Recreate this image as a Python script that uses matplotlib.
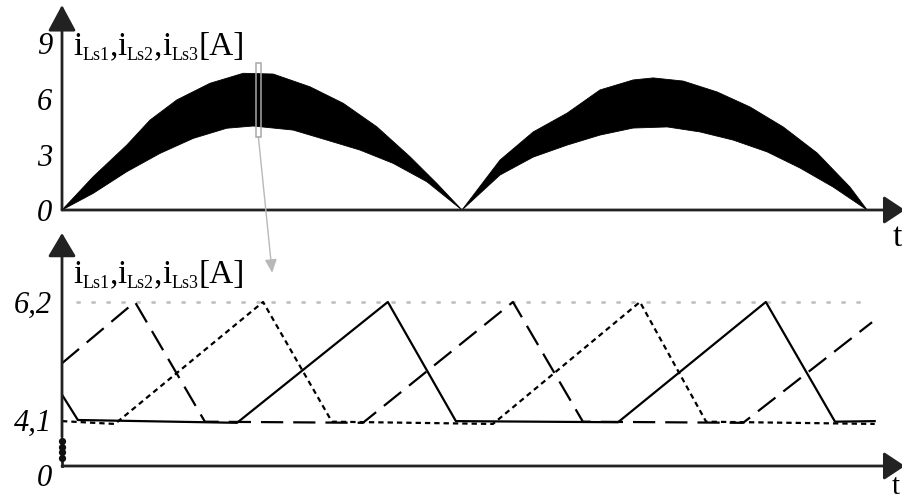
import matplotlib.pyplot as plt
import numpy as np

plt.rcParams['font.family'] = ['Liberation Serif', 'DejaVu Serif']

W, H = 902, 503

# --- top panel: envelope of the rectified choke current (t in ms, i in A) ---
hump1_t_hi = [0, 0.78, 1.62, 2.2, 2.87, 3.7, 4.53, 5.28, 6.2, 7.03, 7.87, 8.7, 9.37, 10.0]
hump1_hi = [0, 1.80, 3.51, 4.86, 5.95, 6.85, 7.39, 7.35, 6.66, 5.77, 4.50, 2.88, 1.44, 0]
hump1_t_lo = [0, 0.78, 1.62, 2.45, 3.28, 4.12, 4.78, 5.78, 6.62, 7.45, 8.28, 9.12, 10.0]
hump1_lo = [0, 0.9, 2.07, 3.06, 3.87, 4.42, 4.54, 4.32, 3.78, 3.24, 2.52, 1.53, 0]

hump2_t_hi = [10.0, 10.95, 11.78, 12.63, 13.45, 14.28, 14.78, 15.53, 16.38, 17.2, 18.03, 18.88, 19.7, 20.13]
hump2_hi = [0, 2.7, 4.22, 5.24, 6.49, 7.03, 7.14, 6.97, 6.38, 5.57, 4.49, 3.08, 1.24, 0]
hump2_t_lo = [10.0, 10.95, 11.78, 12.63, 13.45, 14.28, 15.13, 15.95, 16.78, 17.63, 18.45, 19.28, 20.13]
hump2_lo = [0, 1.89, 2.86, 3.51, 4.05, 4.43, 4.49, 4.22, 3.78, 3.14, 2.27, 1.24, 0]

top_ticks = [0, 3, 6, 9]

# zoom window marked on the top trace (ms, A)
zoom_t = (4.85, 4.975)
zoom_i = (3.95, 7.95)

# --- bottom panel: the three interleaved phase currents (t in us, i in A) ---
ls1_t = [0, 4.2, 46.3, 86.2, 104.2, 147.1, 186.2, 204.5, 215]
ls1_i = [4.55, 4.1, 4.05, 6.2, 4.08, 4.06, 6.2, 4.07, 4.08]

ls2_t = [0, 19.3, 37.8, 79.6, 119.3, 137.8, 180.2, 214.3]
ls2_i = [5.11, 6.2, 4.07, 4.05, 6.2, 4.07, 4.05, 5.84]

ls3_t = [0, 14.0, 53.2, 71.4, 114.0, 152.9, 170.4, 215]
ls3_i = [4.08, 4.03, 6.2, 4.07, 4.03, 6.2, 4.07, 4.03]

i_peak = 6.2
i_valley = 4.1
bot_ticks = [4.1, 6.2]
bot_tick_labels = ['4,1', '6,2']


def px_axes(left, top, right, bottom):
    """Axes rectangle given in image pixels (origin top-left)."""
    return [left / W, 1 - bottom / H, (right - left) / W, (bottom - top) / H]


def axis_arrow(ax, start, end, head_len=1.6, head_w=0.86):
    ax.annotate('', xy=end, xycoords='axes fraction', xytext=start,
                textcoords='axes fraction', annotation_clip=False,
                arrowprops=dict(arrowstyle=f'-|>,head_length={head_len},head_width={head_w}',
                                color='#222222', lw=2, shrinkA=0, shrinkB=0,
                                mutation_scale=10))


def chain_label(ax, x0, y0, parts):
    """Write text pieces one after another; each part is (text, size, drop in px)."""
    prev = None
    for txt, size, drop in parts:
        if prev is None:
            xy, coords = (x0, y0), 'figure pixels'
        else:
            xy, coords = (1, y0), (prev, 'figure pixels')
        prev = ax.annotate(txt, xy=xy, xycoords=coords, xytext=(0, -drop),
                           textcoords='offset pixels', ha='left', va='baseline',
                           fontsize=size, annotation_clip=False)
    return prev


label_parts = []
for k in (1, 2, 3):
    label_parts += [('i', 24, 0), (f'Ls{k}', 13, 5)]
    if k < 3:
        label_parts.append((',', 24, 0))
label_parts += [('[A]', 24, 0)]

fig = plt.figure(figsize=(W / 100, H / 100), dpi=100)
ax_top = fig.add_axes(px_axes(62, 5, 902, 210))
ax_bot = fig.add_axes(px_axes(62, 233, 902, 466))

# top panel
ax_top.fill(np.concatenate([hump1_t_hi, hump1_t_lo[::-1]]),
            np.concatenate([hump1_hi, hump1_lo[::-1]]), color='black', lw=0.6)
ax_top.fill(np.concatenate([hump2_t_hi, hump2_t_lo[::-1]]),
            np.concatenate([hump2_hi, hump2_lo[::-1]]), color='black', lw=0.6)
ax_top.add_patch(plt.Rectangle((zoom_t[0], zoom_i[0]), zoom_t[1] - zoom_t[0],
                               zoom_i[1] - zoom_i[0], fill=False,
                               edgecolor='#a8a8a8', lw=1.1, zorder=5))
ax_top.set_xlim(0, 21)
ax_top.set_ylim(0, 205 / 18.5)
ax_top.set_yticks(top_ticks)
ax_top.set_yticklabels([str(v) for v in top_ticks], fontsize=22, style='italic')

# bottom panel
ax_bot.plot([4, 214], [i_peak, i_peak], color='#c2c2c2', lw=2,
            linestyle=(0, (0.8, 4.6)), dash_capstyle='round')
ax_bot.plot(ls1_t, ls1_i, color='black', lw=1.6)
ax_bot.plot(ls2_t, ls2_i, color='black', lw=1.6, linestyle=(0, (10, 4.5)))
ax_bot.plot(ls3_t, ls3_i, color='black', lw=1.6, linestyle=(0, (2.4, 1.8)))
y_low = i_valley - 46 / 56.2
ax_bot.set_xlim(0, 840 / 3.78)
ax_bot.set_ylim(y_low, y_low + 233 / 56.2)
ax_bot.set_yticks(bot_ticks)
ax_bot.set_yticklabels(bot_tick_labels, fontsize=22, style='italic')
ax_bot.annotate('0', xy=(0, 0), xycoords='axes fraction', xytext=(-10, -12),
                textcoords='offset pixels', ha='right', va='center',
                fontsize=22, style='italic', annotation_clip=False)

for ax in (ax_top, ax_bot):
    for s in ax.spines.values():
        s.set_visible(False)
    ax.set_xticks([])
    ax.tick_params(axis='y', length=0, pad=7)
    ax.patch.set_alpha(0)
    axis_arrow(ax, (0, 0), (1.0035, 0), head_len=1.3)
ax_top.annotate('t', xy=(1, 0), xycoords='axes fraction', xytext=(-5, -12),
                textcoords='offset pixels', ha='center', va='top', fontsize=24,
                annotation_clip=False)
ax_bot.annotate('t', xy=(1, 0), xycoords='axes fraction', xytext=(-6, -8),
                textcoords='offset pixels', ha='center', va='top', fontsize=21,
                annotation_clip=False)

# vertical axes: the bottom one is broken just below 4,1
axis_arrow(ax_top, (0, 0), (0, 1))
axis_arrow(ax_bot, (0, 29 / 233), (0, 1), head_len=1.45)
ax_bot.plot([0, 0], [0, 4 / 233], transform=ax_bot.transAxes, color='#222222',
            lw=2, clip_on=False)
ax_bot.plot([0] * 4, [25 / 233, 19 / 233, 14 / 233, 8 / 233], 'o', ms=4.2,
            color='#111111', transform=ax_bot.transAxes, clip_on=False)

chain_label(ax_top, 73, H - 55, label_parts)
chain_label(ax_bot, 73, H - 283, label_parts)

# pointer from the marked window down to the detail view
ax_top.annotate('', xy=(55.6, 6.72), xycoords=ax_bot.transData,
                xytext=(4.91, zoom_i[0]), textcoords=ax_top.transData,
                annotation_clip=False,
                arrowprops=dict(arrowstyle='-|>,head_length=0.8,head_width=0.36',
                                color='#b8b8b8', lw=1, shrinkA=0, shrinkB=0,
                                mutation_scale=10))

fig.savefig('out.png', dpi=100)
